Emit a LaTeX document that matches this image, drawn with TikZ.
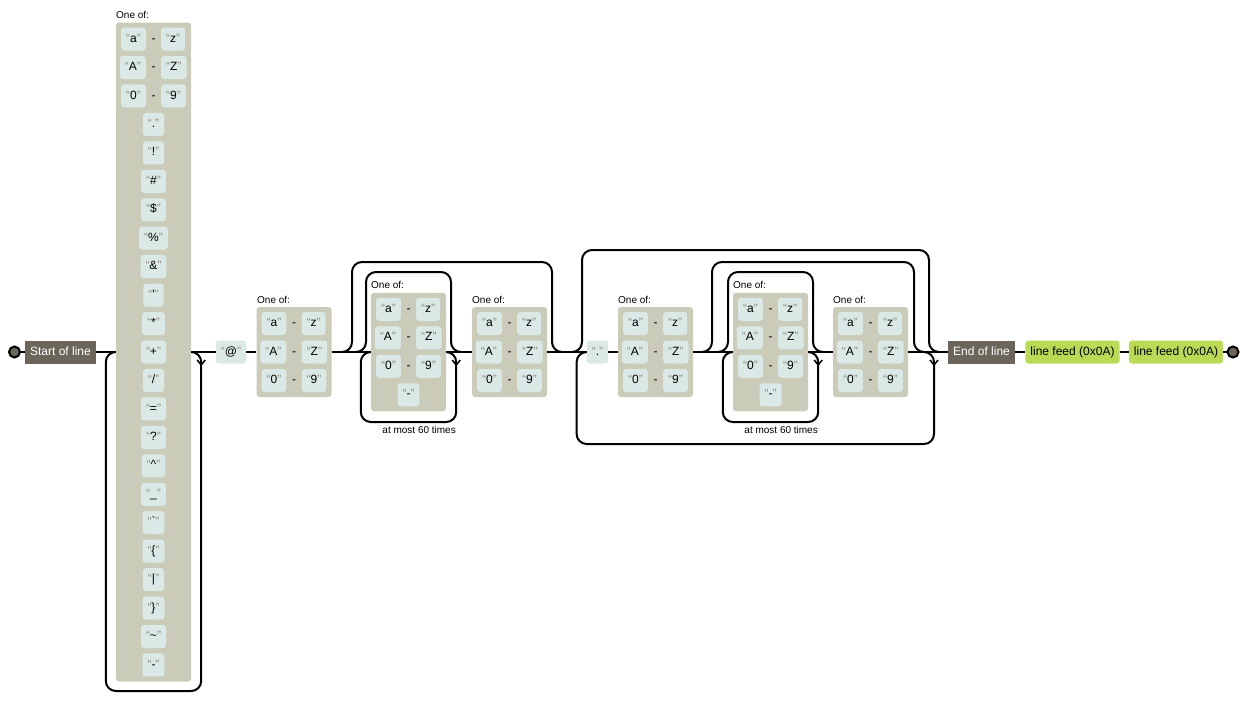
\documentclass[tikz,border=0pt]{standalone}
\usepackage{fontspec}
\setmainfont{Liberation Sans}[Ligatures=TeXOff]
\usetikzlibrary{calc}
\definecolor{litfill}{HTML}{DAE9E5}
\definecolor{setfill}{HTML}{CBCBBA}
\definecolor{anchfill}{HTML}{6B6659}
\definecolor{escfill}{HTML}{BADA55}
\definecolor{qgray}{HTML}{908C83}
\newcommand\qlit[1]{\textcolor{qgray}{“}#1\textcolor{qgray}{”}}
\newcommand\mkrange[5]{%
  \node[lit, anchor=east] (#1l) at ({#2-7.5},#3) {\qlit{#4}};
  \node[dashc] (#1d) at (#2,#3) {-};
  \node[lit, anchor=west] (#1r) at ({#2+7.5},#3) {\qlit{#5}};}
\newcommand\chev[1]{\draw[line width=1.5pt] ($(#1)+(-4,8)$) -- ($(#1)+(0,13)$) -- ($(#1)+(4,8)$);}
\begin{document}
\begin{tikzpicture}[x=1pt,y=-1pt,
  rail/.style={line width=2pt},
  loopr/.style={line width=2pt, rounded corners=10pt},
  txt/.style={text height=8.8pt, text depth=2.6pt, font=\fontsize{12}{14}\selectfont},
  lit/.style={txt, fill=litfill, rounded corners=3pt, inner xsep=5pt, inner ysep=0pt, minimum height=23pt},
  dashc/.style={txt, inner sep=0pt},
  setbox/.style={fill=setfill, rounded corners=3pt, inner sep=0pt, minimum width=75pt},
  anc/.style={txt, fill=anchfill, text=white, inner xsep=5pt, inner ysep=0pt, minimum height=23pt},
  esc/.style={txt, fill=escfill, rounded corners=3pt, inner xsep=5pt, inner ysep=0pt, minimum height=23pt},
  term/.style={circle, fill=anchfill, draw=black, line width=2pt, minimum size=11pt, inner sep=0pt},
  lbl/.style={inner sep=0pt, font=\fontsize{10}{12}\selectfont},
]
\useasboundingbox (0,0) rectangle (1248,702);

% terminals and simple boxes
\node[term] (st) at (14.5,352) {};
\node[anc] (sol) at (60.5,352) {Start of line};
\node[lit] (at) at (231,352) {\qlit{@}};
\node[lit] (dot) at (597.5,352) {\qlit{.}};
\node[anc] (eol) at (981.5,352) {End of line};
\node[esc] (lf1) at (1072.5,352) {line feed (0x0A)};
\node[esc] (lf2) at (1176,352) {line feed (0x0A)};
\node[term] (en) at (1233,352) {};

% big character set
\node[setbox, minimum height=659pt] (big) at (153.5,352) {};
\node[lbl, anchor=base west] (biglbl) at (116,18.5) {One of:};
\mkrange{bAa}{153.5}{39.05}{a}{z}
\mkrange{bAb}{153.5}{67.5}{A}{Z}
\mkrange{bAc}{153.5}{95.95}{0}{9}
\node[lit] (s3) at (153.5,124.4) {\qlit{.}};
\node[lit] (s4) at (153.5,152.85) {\qlit{!}};
\node[lit] (s5) at (153.5,181.3) {\qlit{\#}};
\node[lit] (s6) at (153.5,209.75) {\qlit{\$}};
\node[lit] (s7) at (153.5,238.2) {\qlit{\%}};
\node[lit] (s8) at (153.5,266.65) {\qlit{\&}};
\node[lit] (s9) at (153.5,295.1) {\qlit{'}};
\node[lit] (s10) at (153.5,323.55) {\qlit{*}};
\node[lit] (s11) at (153.5,352) {\qlit{+}};
\node[lit] (s12) at (153.5,380.45) {\qlit{/}};
\node[lit] (s13) at (153.5,408.9) {\qlit{=}};
\node[lit] (s14) at (153.5,437.35) {\qlit{?}};
\node[lit] (s15) at (153.5,465.8) {\qlit{\textasciicircum}};
\node[lit] (s16) at (153.5,494.25) {\qlit{\_}};
\node[lit] (s17) at (153.5,522.7) {\qlit{`}};
\node[lit] (s18) at (153.5,551.15) {\qlit{\{}};
\node[lit] (s19) at (153.5,579.6) {\qlit{|}};
\node[lit] (s20) at (153.5,608.05) {\qlit{\}}};
\node[lit] (s21) at (153.5,636.5) {\qlit{\textasciitilde}};
\node[lit] (s22) at (153.5,664.95) {\qlit{-}};

% box 2
\node[setbox, minimum height=90pt] (b2) at (294,352) {};
\node[lbl, anchor=base west] (b2lbl) at (257,303) {One of:};
\mkrange{b2a}{294}{323.5}{a}{z}
\mkrange{b2b}{294}{352}{A}{Z}
\mkrange{b2c}{294}{380.5}{0}{9}

% box 3
\node[setbox, minimum height=118.5pt] (b3) at (408.5,352) {};
\node[lbl, anchor=base west] (b3lbl) at (371,288.75) {One of:};
\mkrange{b3a}{408.5}{309.25}{a}{z}
\mkrange{b3b}{408.5}{337.75}{A}{Z}
\mkrange{b3c}{408.5}{366.25}{0}{9}
\node[lit] (b3d) at (408.5,394.75) {\qlit{-}};

% box 4
\node[setbox, minimum height=90pt] (b4) at (509.5,352) {};
\node[lbl, anchor=base west] (b4lbl) at (472,303) {One of:};
\mkrange{b4a}{509.5}{323.5}{a}{z}
\mkrange{b4b}{509.5}{352}{A}{Z}
\mkrange{b4c}{509.5}{380.5}{0}{9}

% box 5
\node[setbox, minimum height=90pt] (b5) at (655.5,352) {};
\node[lbl, anchor=base west] (b5lbl) at (618,303) {One of:};
\mkrange{b5a}{655.5}{323.5}{a}{z}
\mkrange{b5b}{655.5}{352}{A}{Z}
\mkrange{b5c}{655.5}{380.5}{0}{9}

% box 6
\node[setbox, minimum height=118.5pt] (b6) at (770.5,352) {};
\node[lbl, anchor=base west] (b6lbl) at (733,288.75) {One of:};
\mkrange{b6a}{770.5}{309.25}{a}{z}
\mkrange{b6b}{770.5}{337.75}{A}{Z}
\mkrange{b6c}{770.5}{366.25}{0}{9}
\node[lit] (b6d) at (770.5,394.75) {\qlit{-}};

% box 7
\node[setbox, minimum height=90pt] (b7) at (870.5,352) {};
\node[lbl, anchor=base west] (b7lbl) at (833,303) {One of:};
\mkrange{b7a}{870.5}{323.5}{a}{z}
\mkrange{b7b}{870.5}{352}{A}{Z}
\mkrange{b7c}{870.5}{380.5}{0}{9}

% repetition labels
\node[lbl, anchor=base east] (rep1) at (456,433) {at most 60 times};
\node[lbl, anchor=base east] (rep2) at (818,433) {at most 60 times};

% junction coordinates
\coordinate (oAs) at (342,352);
\coordinate (oAe) at (562,352);
\coordinate (iAs) at (356,352);
\coordinate (iAe) at (461,352);
\coordinate (oBs) at (572,352);
\coordinate (oBe) at (939,352);
\coordinate (pBs) at (702,352);
\coordinate (pBe) at (924,352);
\coordinate (iBs) at (718,352);
\coordinate (iBe) at (823,352);

% main line
\draw[rail] (st.east) -- (sol.west);
\draw[rail] (sol.east) -- (big.west);
\draw[rail] (big.east) -- (at.west);
\draw[rail] (at.east) -- (b2.west);
\draw[rail] (b2.east) -- (b3.west);
\draw[rail] (b3.east) -- (b4.west);
\draw[rail] (b4.east) -- (dot.west);
\draw[rail] (dot.east) -- (b5.west);
\draw[rail] (b5.east) -- (b6.west);
\draw[rail] (b6.east) -- (b7.west);
\draw[rail] (b7.east) -- (eol.west);
\draw[rail] (eol.east) -- (lf1.west);
\draw[rail] (lf1.east) -- (lf2.west);
\draw[rail] (lf2.east) -- (en.west);

% loops (repeat)
\draw[loopr] (big.west) -- ++(-10,0) -- ++(0,339) -| ([xshift=10pt]big.east) -- (big.east);
\chev{[xshift=10pt]big.east}
\draw[loopr] (b3.west) -- ++(-10,0) -- ++(0,70) -| ([xshift=10pt]b3.east) -- (b3.east);
\chev{[xshift=10pt]b3.east}
\draw[loopr] (b6.west) -- ++(-10,0) -- ++(0,70) -| ([xshift=10pt]b6.east) -- (b6.east);
\chev{[xshift=10pt]b6.east}
\draw[loopr] (dot.west) -- ++(-10,0) -- ++(0,92) -| ([xshift=10pt]pBe) -- (pBe);
\chev{[xshift=10pt]pBe}

% skips (optional)
\draw[loopr] (oAs) -- ++(10,0) -- ++(0,-90) -| ([xshift=-10pt]oAe) -- (oAe);
\draw[loopr] (iAs) -- ++(10,0) -- ++(0,-80) -| ([xshift=-10pt]iAe) -- (iAe);
\draw[loopr] (oBs) -- ++(10,0) -- ++(0,-102) -| ([xshift=-10pt]oBe) -- (oBe);
\draw[loopr] (pBs) -- ++(10,0) -- ++(0,-90) -| ([xshift=-10pt]pBe) -- (pBe);
\draw[loopr] (iBs) -- ++(10,0) -- ++(0,-80) -| ([xshift=-10pt]iBe) -- (iBe);
\end{tikzpicture}
\end{document}
